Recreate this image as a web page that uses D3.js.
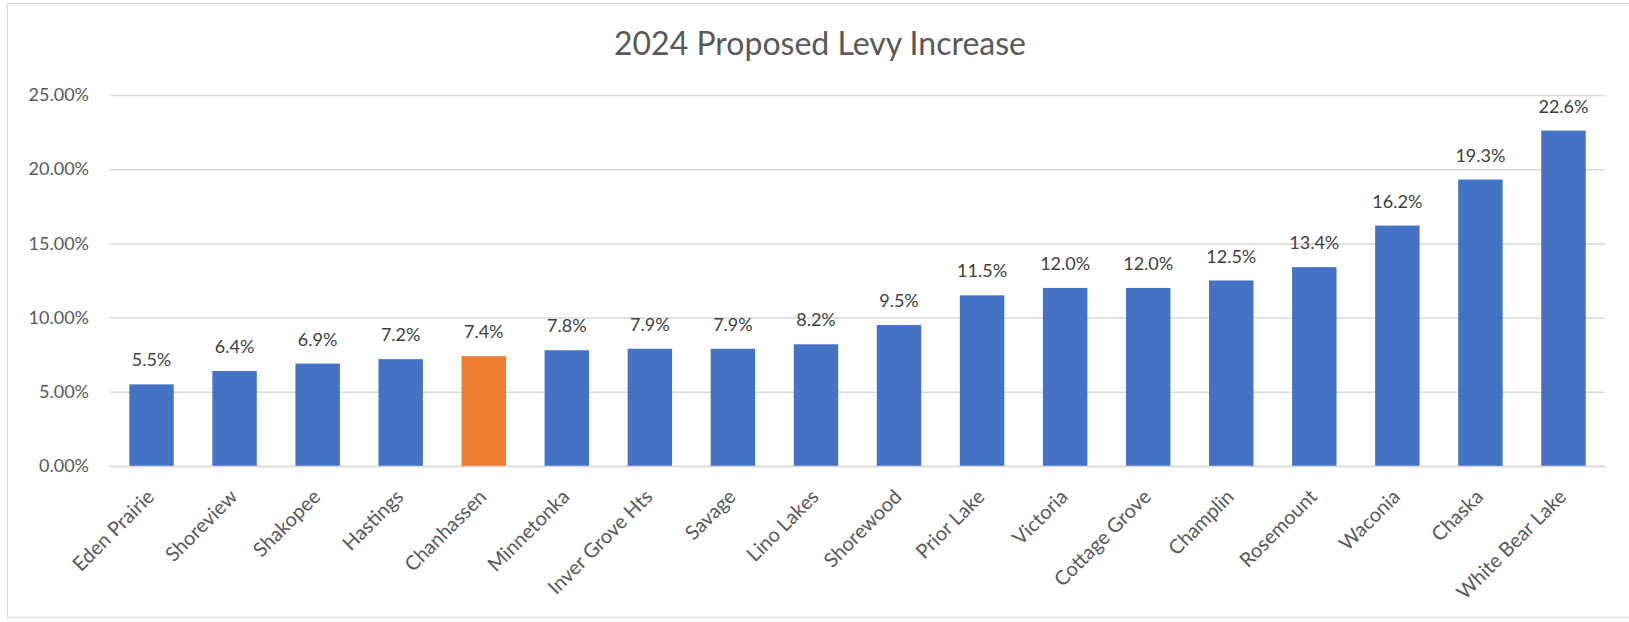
<!DOCTYPE html>
<html>
<head>
<meta charset="utf-8">
<script src="https://cdn.jsdelivr.net/npm/d3@7"></script>
<style>
  html, body { margin: 0; padding: 0; background: #fff; }
  svg { display: block; }
  svg text { font-family: "Lato", "Open Sans", sans-serif; }
</style>
</head>
<body>
<svg id="chart" width="1629" height="622"></svg>
<script>
// City names and their proposed 2024 levy increase (%)
const cities = [
  "Eden Prairie", "Shoreview", "Shakopee", "Hastings", "Chanhassen",
  "Minnetonka", "Inver Grove Hts", "Savage", "Lino Lakes", "Shorewood",
  "Prior Lake", "Victoria", "Cottage Grove", "Champlin", "Rosemount",
  "Waconia", "Chaska", "White Bear Lake"
];
const levyIncrease = [
  5.5, 6.4, 6.9, 7.2, 7.4,
  7.8, 7.9, 7.9, 8.2, 9.5,
  11.5, 12.0, 12.0, 12.5, 13.4,
  16.2, 19.3, 22.6
];
const highlighted = ["Chanhassen"];
const yTicks = [0, 5, 10, 15, 20, 25];
const title = "2024 Proposed Levy Increase";

const svg = d3.select("#chart");
const W = 1629, H = 622;
const plot = { left: 110, right: 1605, top: 95, bottom: 466 };
const FONT = '"Lato", "Open Sans", sans-serif';

// chart area border (runs off the right edge)
svg.append("rect")
  .attr("x", 7.5).attr("y", 3.5)
  .attr("width", W).attr("height", 614)
  .attr("fill", "#fff").attr("stroke", "#d9d9d9").attr("stroke-width", 1);

const x = d3.scaleBand()
  .domain(cities)
  .range([plot.left, plot.right])
  .paddingInner(0.465)
  .paddingOuter(0.2325);

const y = d3.scaleLinear()
  .domain([0, 25])
  .range([plot.bottom, plot.top]);

// horizontal gridlines + y tick labels
const yAxis = d3.axisLeft(y)
  .tickValues(yTicks)
  .tickSize(-(plot.right - plot.left))
  .tickPadding(21)
  .tickFormat(d => d3.format(".2f")(d) + "%");

const gy = svg.append("g")
  .attr("transform", `translate(${plot.left},0)`)
  .call(yAxis)
  .attr("font-family", FONT);
gy.select(".domain").remove();
gy.selectAll(".tick line").attr("stroke", "#d9d9d9").attr("stroke-width", 1.5);
gy.selectAll(".tick text")
  .attr("fill", "#595959")
  .attr("font-size", 18);

// bars
svg.append("g")
  .selectAll("rect")
  .data(cities)
  .join("rect")
  .attr("x", d => x(d))
  .attr("width", x.bandwidth())
  .attr("y", (d, i) => y(levyIncrease[i]))
  .attr("height", (d, i) => y(0) - y(levyIncrease[i]))
  .attr("fill", d => highlighted.includes(d) ? "#ed7d31" : "#4472c4");

// value labels
svg.append("g")
  .selectAll("text")
  .data(cities)
  .join("text")
  .attr("x", d => x(d) + x.bandwidth() / 2)
  .attr("y", (d, i) => y(levyIncrease[i]) - 18)
  .attr("text-anchor", "middle")
  .attr("fill", "#404040")
  .attr("font-size", 18)
  .text((d, i) => d3.format(".1f")(levyIncrease[i]) + "%");

// x axis with rotated category labels
const xAxis = d3.axisBottom(x).tickSize(0).tickPadding(0);
const gx = svg.append("g")
  .attr("transform", `translate(0,${plot.bottom})`)
  .call(xAxis)
  .attr("font-family", FONT);
gx.select(".domain").attr("stroke", "#d9d9d9").attr("stroke-width", 1.5);
gx.selectAll(".tick text")
  .attr("fill", "#595959")
  .attr("font-size", 20)
  .attr("text-anchor", "end")
  .attr("y", 0)
  .attr("dy", 0)
  .attr("transform", "translate(4,32) rotate(-45)");

// title
svg.append("text")
  .attr("x", 820)
  .attr("y", 55)
  .attr("text-anchor", "middle")
  .attr("fill", "#595959")
  .attr("font-size", 32)
  .text(title);
</script>
</body>
</html>
